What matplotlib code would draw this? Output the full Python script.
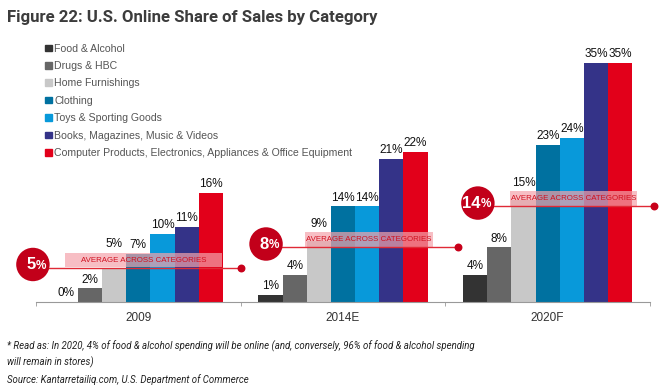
import numpy as np
import matplotlib
matplotlib.use("Agg")
import matplotlib.pyplot as plt
from matplotlib.patches import Patch, Rectangle

# data
years = ["2009", "2014E", "2020F"]
categories = ["Food & Alcohol", "Drugs & HBC", "Home Furnishings", "Clothing",
              "Toys & Sporting Goods", "Books, Magazines, Music & Videos",
              "Computer Products, Electronics, Appliances & Office Equipment"]
share_2009 = [0, 2, 5, 7, 10, 11, 16]
share_2014 = [1, 4, 9, 14, 14, 21, 22]
share_2020 = [4, 8, 15, 23, 24, 35, 35]
averages = [5, 8, 14]

colors = ["#333333", "#666666", "#c8c8c8", "#0071a0", "#0899da", "#343388", "#e2001a"]

plt.rcParams["font.family"] = ["Liberation Sans", "DejaVu Sans"]

fig = plt.figure(figsize=(6.69, 3.90), dpi=100)
ax = fig.add_axes([0.0538, 0.2256, 0.9178, 0.700])

shares = [share_2009, share_2014, share_2020]
bar_w = 0.118
x = np.arange(len(years))
for i, cat in enumerate(categories):
    vals = [s[i] for s in shares]
    pos = x + (i - 3) * bar_w
    bars = ax.bar(pos, vals, width=bar_w, color=colors[i], label=cat, zorder=2)
    for g, (b, v) in enumerate(zip(bars, vals)):
        # labels that would sit inside the average box are lifted above it
        y = v
        if i > 0 and abs(v - averages[g]) < 1.5:
            y = averages[g] + 2.2
        ax.annotate(f"{v}%", (b.get_x() + b.get_width() / 2, y), xytext=(0, 2),
                    textcoords="offset points", ha="center", va="bottom",
                    fontsize=8.5, color="#111111", zorder=8)

# average markers: circle, line, dot, translucent label box
circle_x = [-0.515, -0.376, -0.341]
dot_x = [0.5, 0.562, 0.519]
box_x = [(-0.358, 0.409), (-0.186, 0.439), (-0.184, 0.436)]
for g, avg in enumerate(averages):
    x0 = g + circle_x[g]
    x1 = g + dot_x[g]
    ax.plot([x0, x1], [avg, avg], color="#e02a36", lw=1.0, zorder=4, clip_on=False)
    ax.scatter([x1], [avg], s=22, color="#c8001a", zorder=5, clip_on=False)
    bx0, bx1 = g + box_x[g][0], g + box_x[g][1]
    ax.add_patch(Rectangle((bx0, avg + 0.1), bx1 - bx0, 2.1, facecolor="#f4a3ab",
                           alpha=0.7, edgecolor="none", zorder=3))
    ax.text((bx0 + bx1) / 2, avg + 1.15, "AVERAGE ACROSS CATEGORIES", ha="center",
            va="center", fontsize=5.7, color="#d0101f", zorder=6)
    ax.scatter([x0], [avg + 0.5], s=580, color="#c2001a", zorder=6, clip_on=False,
               edgecolors="none")
    ax.annotate(f"{avg}", (x0, avg + 0.5), xytext=(2, 0), textcoords="offset points",
                ha="right", va="center", fontsize=12, fontweight="bold",
                color="white", zorder=7, annotation_clip=False)
    ax.annotate("%", (x0, avg + 0.5), xytext=(2, -1), textcoords="offset points",
                ha="left", va="center", fontsize=8.5, fontweight="bold",
                color="white", zorder=7, annotation_clip=False)

ax.set_xlim(-0.5, 2.5)
ax.set_ylim(0, 40)
ax.set_xticks(x)
ax.set_xticklabels(years, fontsize=8.5, color="#333333")
ax.set_xticks([-0.5, 0.5, 1.5, 2.5], minor=True)
ax.tick_params(axis="x", which="major", length=0, pad=7)
ax.tick_params(axis="x", which="minor", length=3, color="#999999", direction="out")
ax.set_yticks([])
for s in ["top", "right", "left"]:
    ax.spines[s].set_visible(False)
ax.spines["bottom"].set_color("#999999")

handles = [Patch(color=c) for c in colors]
leg = fig.legend(handles, categories, loc="upper left", bbox_to_anchor=(0.068, 0.888),
                 frameon=False, fontsize=7.6, handlelength=0.6, handleheight=0.6,
                 handletextpad=0.25, labelspacing=0.7, borderpad=0, borderaxespad=0)
for t in leg.get_texts():
    t.set_color("#555555")

fig.text(0.010, 0.975, "Figure 22: U.S. Online Share of Sales by Category",
         fontsize=12.1, fontweight="bold", color="#3c3c3c", family="Roboto",
         ha="left", va="top")

fig.text(0.010, 0.112, "* Read as: In 2020, 4% of food & alcohol spending will be online "
         "(and, conversely, 96% of food & alcohol spending", fontsize=6.9,
         style="italic", color="#222222", family="Roboto", va="center")
fig.text(0.010, 0.070, "will remain in stores)", fontsize=6.9, style="italic",
         color="#222222", family="Roboto", va="center")
fig.text(0.010, 0.026, "Source: Kantarretailiq.com, U.S. Department of Commerce",
         fontsize=6.9, style="italic", color="#222222", family="Roboto", va="center")

fig.savefig("out.png", dpi=100)
